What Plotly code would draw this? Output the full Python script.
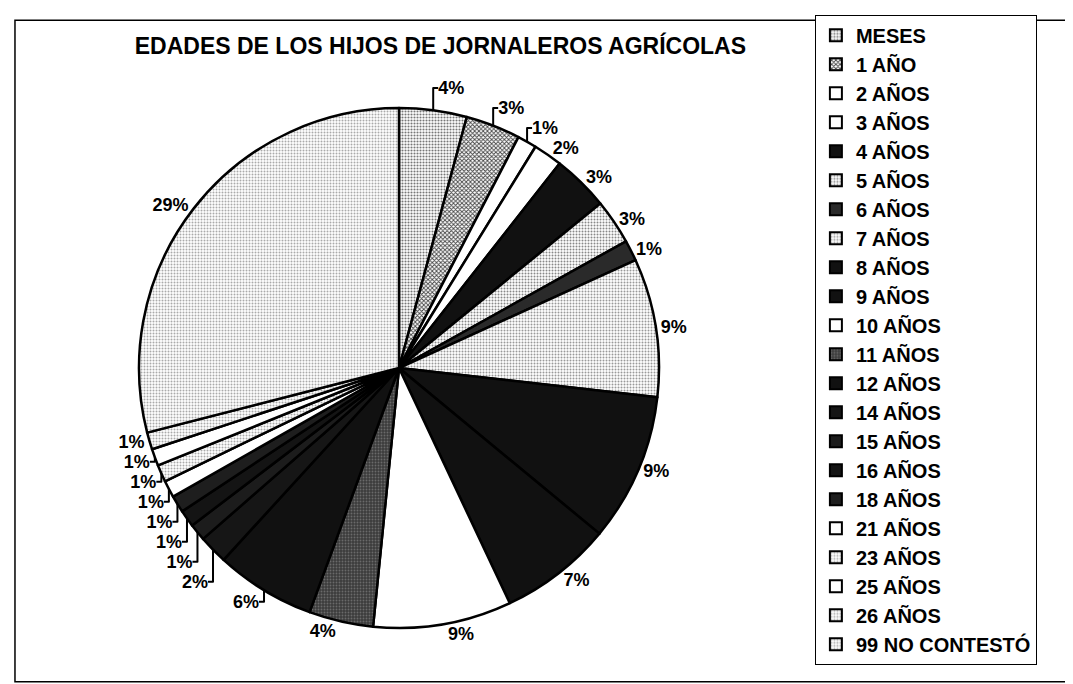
import plotly.graph_objects as go

# ---- data ----
edades = ["MESES", "1 AÑO", "2 AÑOS", "3 AÑOS", "4 AÑOS", "5 AÑOS", "6 AÑOS",
          "7 AÑOS", "8 AÑOS", "9 AÑOS", "10 AÑOS", "11 AÑOS", "12 AÑOS",
          "14 AÑOS", "15 AÑOS", "16 AÑOS", "18 AÑOS", "21 AÑOS", "23 AÑOS",
          "25 AÑOS", "26 AÑOS", "99 NO CONTESTÓ"]
porcentajes = [4.2, 3.4, 1.2, 1.8, 3.5, 2.8, 1.3, 8.6, 9.2, 7.0, 8.6, 4.0, 6.2,
               1.8, 1.06, 1.06, 1.06, 1.06, 1.06, 1.06, 1.06, 29.0]
etiquetas = ["4%", "3%", "1%", "2%", "3%", "3%", "1%", "9%", "9%", "7%", "9%",
             "4%", "6%", "2%", "1%", "1%", "1%", "1%", "1%", "1%", "1%", "29%"]

# ---- styles (per slice) ----
fondo = ["white", "white", "white", "white", "#111111", "white", "#2a2a2a",
         "white", "#111111", "#111111", "white", "#3c3c3c", "#111111",
         "#161616", "#1c1c1c", "#141414", "#1e1e1e", "white", "white",
         "white", "white", "white"]
forma = [".", "x", "", "", "", ".", "", ".", "", "", "", ".", "", "", "", "",
         "", "", ".", "", ".", "."]
tinta = ["#777777", "#444444", "black", "black", "black", "#888888", "black",
         "#999999", "black", "black", "black", "#6a6a6a", "black", "black",
         "black", "black", "black", "black", "#aaaaaa", "black", "#aaaaaa",
         "#aaaaaa"]
solidez = [0.4, 0.5, 0.3, 0.3, 0.3, 0.35, 0.3, 0.35, 0.3, 0.3, 0.3, 0.3, 0.3,
           0.3, 0.3, 0.3, 0.3, 0.3, 0.35, 0.3, 0.35, 0.35]

FONT = "Liberation Sans, Arial, sans-serif"

fig = go.Figure(go.Pie(
    labels=edades,
    values=porcentajes,
    text=etiquetas,
    texttemplate="%{text}",
    textposition="outside",
    textfont=dict(family=FONT, size=18, color="black", weight="bold"),
    outsidetextfont=dict(family=FONT, size=18, color="black", weight="bold"),
    sort=False,
    direction="clockwise",
    rotation=0,
    marker=dict(
        colors=fondo,
        line=dict(color="black", width=2.5),
        pattern=dict(shape=forma, fgcolor=tinta, bgcolor=fondo,
                     size=3, solidity=solidez, fillmode="replace"),
    ),
    domain=dict(x=[0.1221, 0.6067], y=[0.0935, 0.8538]),
    hoverinfo="label+percent",
))

fig.update_layout(
    width=1073, height=684,
    margin=dict(l=0, r=0, t=0, b=0),
    paper_bgcolor="white",
    plot_bgcolor="white",
    font=dict(family=FONT, color="black"),
    title=dict(text="<b>EDADES DE LOS HIJOS DE JORNALEROS AGRÍCOLAS</b>",
               x=0.403, xanchor="center", y=0.945, yanchor="middle",
               font=dict(family=FONT, size=23, color="black")),
    legend=dict(
        x=0.752, xanchor="left", y=0.99, yanchor="top",
        bordercolor="black", borderwidth=1, bgcolor="white",
        font=dict(family=FONT, size=20, color="black", weight="bold"),
        traceorder="normal",
        itemsizing="constant",
    ),
    shapes=[dict(type="rect", xref="paper", yref="paper",
                 x0=0.0065, x1=1.0, y0=0.015, y1=0.982,
                 line=dict(color="black", width=1.5))],
)

fig.write_html("out.html")
